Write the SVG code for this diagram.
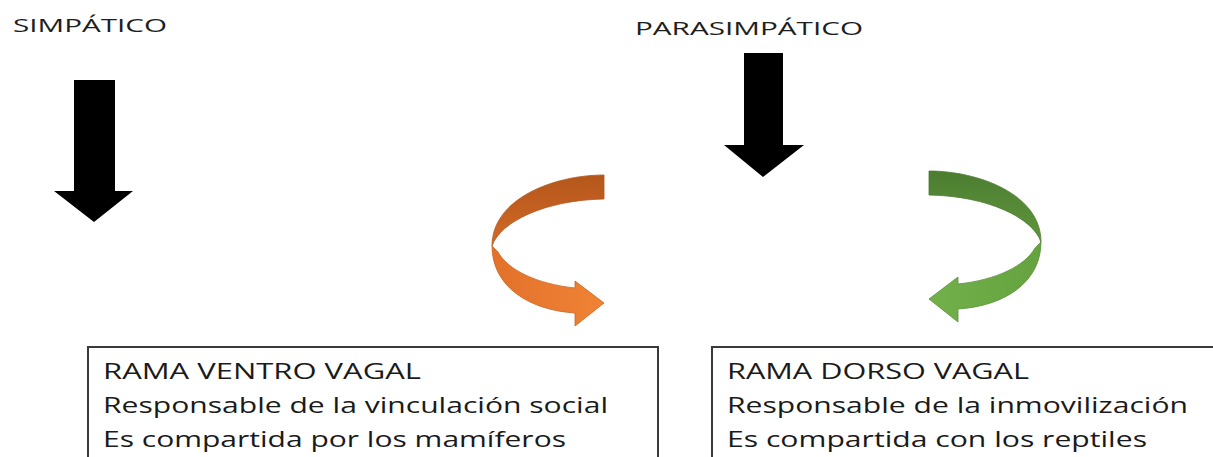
<svg xmlns="http://www.w3.org/2000/svg" width="1213" height="457" viewBox="0 0 1213 457">
  <style>
    .title { font-family: "Open Sans", "Liberation Sans", sans-serif; font-size: 19px; fill: #1e1e1e; }
    .body { font-family: "Open Sans", "Liberation Sans", sans-serif; font-size: 22px; fill: #1a1a1a; }
    .box { fill: #ffffff; stroke: #3a3a3a; stroke-width: 2; }
    .blk { fill: #000000; }
  </style>
  <defs>
    <linearGradient id="oDark" x1="0" y1="0" x2="0" y2="1">
      <stop offset="0" stop-color="#B4561B"/>
      <stop offset="1" stop-color="#D26B27"/>
    </linearGradient>
    <linearGradient id="oLight" x1="0" y1="0" x2="1" y2="0">
      <stop offset="0" stop-color="#E2712A"/>
      <stop offset="1" stop-color="#F08336"/>
    </linearGradient>
    <linearGradient id="gDark" x1="0" y1="0" x2="0" y2="1">
      <stop offset="0" stop-color="#4C7D30"/>
      <stop offset="1" stop-color="#5F963E"/>
    </linearGradient>
    <linearGradient id="gLight" x1="0" y1="0" x2="1" y2="0">
      <stop offset="0" stop-color="#64A33F"/>
      <stop offset="1" stop-color="#72B04A"/>
    </linearGradient>
  </defs>

  <g id="simpatico">
    <text class="title" x="13" y="31.5" textLength="154" lengthAdjust="spacingAndGlyphs">SIMPÁTICO</text>
  </g>

  <g id="parasimpatico">
    <text class="title" x="635" y="35" textLength="228" lengthAdjust="spacingAndGlyphs">PARASIMPÁTICO</text>
  </g>

  <g id="rama-ventro-vagal">
    <rect class="box" x="88" y="347" width="570" height="130"/>
    <text class="body" x="103" y="378.5" textLength="318" lengthAdjust="spacingAndGlyphs">RAMA VENTRO VAGAL</text>
    <text class="body" x="103" y="413" textLength="505" lengthAdjust="spacingAndGlyphs">Responsable de la vinculación social</text>
    <text class="body" x="103" y="447" textLength="463" lengthAdjust="spacingAndGlyphs">Es compartida por los mamíferos</text>
  </g>

  <g id="rama-dorso-vagal">
    <rect class="box" x="712" y="347" width="540" height="130"/>
    <text class="body" x="727" y="378.5" textLength="302" lengthAdjust="spacingAndGlyphs">RAMA DORSO VAGAL</text>
    <text class="body" x="727" y="413" textLength="461" lengthAdjust="spacingAndGlyphs">Responsable de la inmovilización</text>
    <text class="body" x="727" y="447" textLength="420" lengthAdjust="spacingAndGlyphs">Es compartida con los reptiles</text>
  </g>

  <g id="connectors">
    <path class="blk" d="M74,80 L115,80 L115,191 L133,191 L94,222 L54,191 L74,191 Z"/>
    <path class="blk" d="M744,53 L783,53 L783,145 L804,145 L763,177 L724,145 L744,145 Z"/>
    <g id="orange-curve">
      <path d="M604,175 C555,175 492,198 492,246 C500,222 545,200 604,199 Z" fill="url(#oDark)" stroke="#B0561C" stroke-width="0.8"/>
      <path d="M498,252 C508,270 537,284 575,288 L575,281 L604,303 L575,326 L575,313 C528,310 492,286 492,246 Z" fill="url(#oLight)" stroke="#C9631F" stroke-width="0.8"/>
    </g>
    <g id="green-curve" transform="translate(1533,-4) scale(-1,1)">
      <path d="M604,175 C555,175 492,198 492,246 C500,222 545,200 604,199 Z" fill="url(#gDark)" stroke="#4A7A2E" stroke-width="0.8"/>
      <path d="M498,252 C508,270 537,284 575,288 L575,281 L604,303 L575,326 L575,313 C528,310 492,286 492,246 Z" fill="url(#gLight)" stroke="#5A8F3A" stroke-width="0.8"/>
    </g>
  </g>
</svg>
